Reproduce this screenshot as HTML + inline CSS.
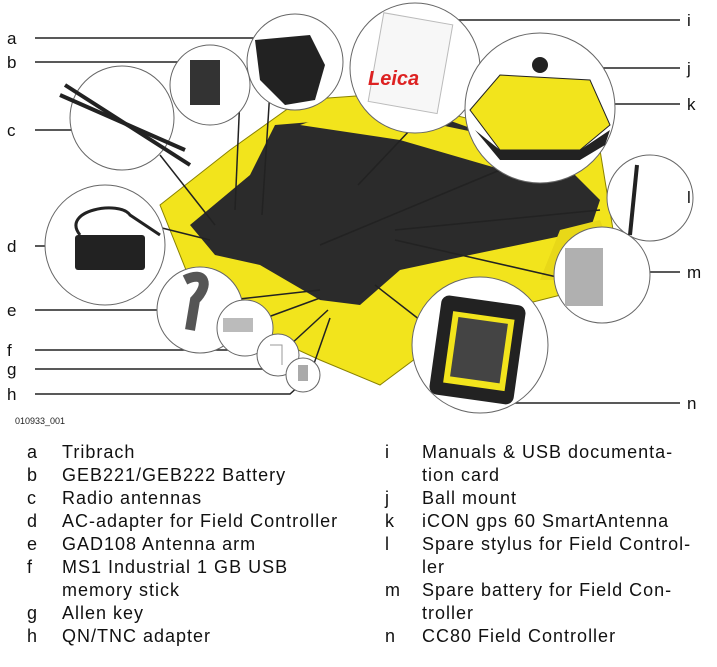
<!DOCTYPE html>
<html><head><style>
body{margin:0;background:#fff;width:717px;height:667px;overflow:hidden;font-family:"Liberation Sans",sans-serif}
.t{position:absolute;font-size:18px;letter-spacing:1px;color:#111;line-height:23px;white-space:nowrap}
.l{position:absolute;font-size:17px;color:#111;line-height:23px}
</style></head><body>
<svg width="717" height="430" style="position:absolute;left:0;top:0" font-family="Liberation Sans" >
<polygon points="160,205 230,150 300,100 370,95 600,150 618,260 600,285 470,318 380,385 320,360 200,305" fill="#f2e41c" stroke="#8a8200" stroke-width="1"/>
<polygon points="190,225 250,175 275,125 360,118 420,110 560,160 600,200 590,230 470,255 400,270 360,305 320,300 260,265 215,255" fill="#2b2b2b"/>
<polygon points="300,125 350,108 440,125 560,150 590,175 520,175 400,140" fill="#f2e41c"/>
<polygon points="560,230 600,220 615,260 600,280 540,280" fill="#e8d818"/>
<g stroke="#222" stroke-width="1.5" fill="none">
<polyline points="35,38 255,38 285,60"/><line x1="270" y1="90" x2="262" y2="215"/>
<polyline points="35,62 190,62 200,70"/><line x1="240" y1="95" x2="235" y2="210"/>
<polyline points="35,130 110,130"/><line x1="160" y1="155" x2="215" y2="225"/>
<polyline points="35,246 80,246"/><line x1="150" y1="225" x2="210" y2="240"/>
<polyline points="35,310 180,310"/><line x1="230" y1="300" x2="320" y2="290"/>
<polyline points="35,350 230,350 245,335"/><line x1="260" y1="320" x2="320" y2="298"/>
<polyline points="35,369 265,369 275,360"/><line x1="290" y1="345" x2="328" y2="310"/>
<polyline points="35,394 290,394 300,385"/><line x1="310" y1="375" x2="330" y2="318"/>
<polyline points="680,20 420,20 410,35"/><line x1="410" y1="130" x2="358" y2="185"/>
<polyline points="680,68 545,68"/>
<polyline points="680,104 595,104"/><line x1="500" y1="170" x2="320" y2="245"/>
<polyline points="680,197 640,197"/><line x1="600" y1="210" x2="395" y2="230"/>
<polyline points="680,272 625,272"/><line x1="570" y1="280" x2="395" y2="240"/>
<polyline points="680,403 510,403 495,385"/><line x1="420" y1="320" x2="375" y2="285"/>
</g>
<g fill="#fff" stroke="#666" stroke-width="1">
<circle cx="295" cy="62" r="48"/>
<circle cx="210" cy="85" r="40"/>
<circle cx="415" cy="68" r="65"/>
<circle cx="540" cy="108" r="75"/>
<circle cx="122" cy="118" r="52"/>
<circle cx="105" cy="245" r="60"/>
<circle cx="650" cy="198" r="43"/>
<circle cx="602" cy="275" r="48"/>
<circle cx="200" cy="310" r="43"/>
<circle cx="245" cy="328" r="28"/>
<circle cx="278" cy="355" r="21"/>
<circle cx="303" cy="375" r="17"/>
<circle cx="480" cy="345" r="68"/>
</g>
<polygon points="255,40 310,35 325,65 315,100 285,105 260,80" fill="#222"/>
<rect x="190" y="60" width="30" height="45" fill="#333"/>
<rect x="376" y="18" width="70" height="90" fill="#f7f7f7" stroke="#bbb" transform="rotate(10 410 60)"/>
<text x="368" y="85" fill="#d22" font-size="20" font-style="italic" font-weight="bold">Leica</text>
<polygon points="470,110 500,75 590,80 610,125 580,150 500,150" fill="#f2e41c" stroke="#222"/>
<polygon points="475,130 500,150 580,150 610,130 605,145 580,160 500,160" fill="#222"/>
<circle cx="540" cy="65" r="8" fill="#222"/>
<line x1="65" y1="85" x2="190" y2="165" stroke="#222" stroke-width="4"/>
<line x1="60" y1="95" x2="185" y2="150" stroke="#222" stroke-width="4"/>
<rect x="75" y="235" width="70" height="35" fill="#222" rx="3"/>
<path d="M80,235 C60,210 120,200 130,215 L160,235" stroke="#222" stroke-width="3" fill="none"/>
<path d="M185,280 C205,270 210,285 195,300 L190,330" stroke="#555" stroke-width="10" fill="none"/>
<rect x="223" y="318" width="30" height="14" fill="#bbb"/>
<path d="M270,345 L282,345 L282,365" stroke="#999" fill="none"/>
<rect x="298" y="365" width="10" height="16" fill="#aaa"/>
<rect x="565" y="248" width="38" height="58" fill="#b0b0b0"/>
<line x1="637" y1="165" x2="630" y2="235" stroke="#222" stroke-width="4"/>
<rect x="435" y="300" width="85" height="100" rx="8" fill="#222" transform="rotate(8 478 350)"/>
<rect x="448" y="315" width="62" height="72" fill="#f2e41c" transform="rotate(8 478 350)"/>
<rect x="454" y="320" width="50" height="60" fill="#444" transform="rotate(8 478 350)"/>
<text x="15" y="424" font-size="9" fill="#222">010933_001</text>
</svg>
<div class="l" style="left:7px;top:27px">a</div>
<div class="l" style="left:7px;top:51px">b</div>
<div class="l" style="left:7px;top:119px">c</div>
<div class="l" style="left:7px;top:235px">d</div>
<div class="l" style="left:7px;top:299px">e</div>
<div class="l" style="left:7px;top:339px">f</div>
<div class="l" style="left:7px;top:358px">g</div>
<div class="l" style="left:7px;top:383px">h</div>
<div class="l" style="left:687px;top:9px">i</div>
<div class="l" style="left:687px;top:57px">j</div>
<div class="l" style="left:687px;top:93px">k</div>
<div class="l" style="left:687px;top:186px">l</div>
<div class="l" style="left:687px;top:261px">m</div>
<div class="l" style="left:687px;top:392px">n</div>

<div class="t" style="left:27px;top:441px">a<br>b<br>c<br>d<br>e<br>f<br><br>g<br>h</div>
<div class="t" style="left:62px;top:441px">Tribrach<br>GEB221/GEB222 Battery<br>Radio antennas<br>AC-adapter for Field Controller<br>GAD108 Antenna arm<br>MS1 Industrial 1 GB USB<br>memory stick<br>Allen key<br>QN/TNC adapter</div>
<div class="t" style="left:385px;top:441px">i<br><br>j<br>k<br>l<br><br>m<br><br>n</div>
<div class="t" style="left:422px;top:441px">Manuals &amp; USB documenta-<br>tion card<br>Ball mount<br>iCON gps 60 SmartAntenna<br>Spare stylus for Field Control-<br>ler<br>Spare battery for Field Con-<br>troller<br>CC80 Field Controller</div>
</body></html>
